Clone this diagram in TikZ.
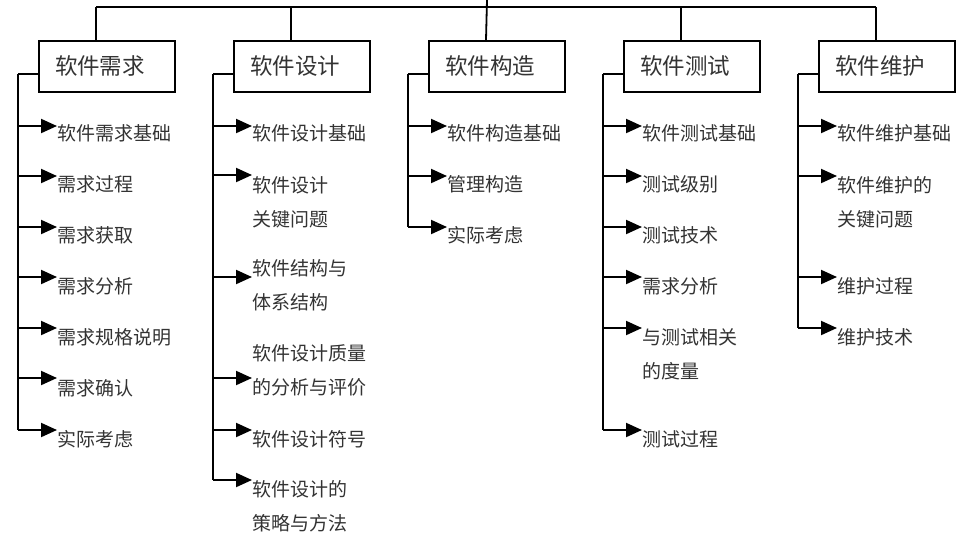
\documentclass[tikz,border=0pt]{standalone}
\usepackage{fontspec}
\newfontfamily\cjk{Noto Sans CJK SC}
\usetikzlibrary{arrows.meta}
\begin{document}
\begin{tikzpicture}[x=1pt,y=-1pt,
  topbox/.style={draw,line width=1.8pt,minimum width=136pt,minimum height=51pt,inner sep=0pt,anchor=north west},
  boxtext/.style={font=\cjk\fontsize{22.5}{22.5}\selectfont,text=black!80,inner sep=0pt},
  item/.style={anchor=west,inner sep=0pt,align=left,text=black!80,font=\cjk\fontsize{19}{34}\selectfont},
  link/.style={line width=1.8pt},
  branch/.style={line width=1.5pt},
  arr/.style={line width=2pt,-{Triangle[length=16pt,width=14pt]}}]
\useasboundingbox (0,0) rectangle (970,539);
% boxes
\foreach \n/\lx/\t in {1/38/软件需求,2/233/软件设计,3/428/软件构造,4/623/软件测试,5/818/软件维护}{
  \node[topbox] (b\n) at (\lx,40) {};
  \node[boxtext] (bt\n) at (\lx+62,66) {\t};
  \coordinate (top\n) at (\lx+58,7);
  \coordinate (tb\n) at (\lx+58,40);
  \coordinate (br\n) at (\lx-20,74);
  \coordinate (bl\n) at (\lx,74);
}
\coordinate (root) at (487,0);
\draw[link] (top1) -- (top5);
\draw[link] (root) -- (tb3);
\foreach \n in {1,2,4,5}{\draw[link] (top\n) -- (tb\n);}
\foreach \n in {1,...,5}{\draw[branch] (bl\n) -- (br\n);}
% ---------- column 1
\node[item] (t1a) at (57,133) {软件需求基础};
\node[item] (t1b) at (57,184) {需求过程};
\node[item] (t1c) at (57,235) {需求获取};
\node[item] (t1d) at (57,286) {需求分析};
\node[item] (t1e) at (57,337) {需求规格说明};
\node[item] (t1f) at (57,388) {需求确认};
\node[item] (t1g) at (57,439) {实际考虑};
\coordinate (e1) at (18,430);
\draw[branch] (br1) -- (e1);
\foreach \s/\y in {a/126,b/176,c/227,d/277,e/328,f/378,g/430}{
  \coordinate (c1\s) at (18,\y);
  \draw[arr] (c1\s) -- (c1\s -| t1\s.west);
}
% ---------- column 2
\node[item] (t2a) at (252,133) {软件设计基础};
\node[item] (t2b) at (252,202) {软件设计\\关键问题};
\node[item] (t2c) at (252,285.5) {软件结构与\\体系结构};
\node[item] (t2d) at (252,370.5) {软件设计质量\\的分析与评价};
\node[item] (t2e) at (252,439) {软件设计符号};
\node[item] (t2f) at (252,506) {软件设计的\\策略与方法};
\coordinate (e2) at (213,480);
\draw[branch] (br2) -- (e2);
\foreach \s/\y in {a/126,b/175,c/277,d/378,e/430,f/480}{
  \coordinate (c2\s) at (213,\y);
  \draw[arr] (c2\s) -- (c2\s -| t2\s.west);
}
% ---------- column 3
\node[item] (t3a) at (447,133) {软件构造基础};
\node[item] (t3b) at (447,184) {管理构造};
\node[item] (t3c) at (447,235) {实际考虑};
\coordinate (e3) at (408,227);
\draw[branch] (br3) -- (e3);
\foreach \s/\y in {a/126,b/176,c/227}{
  \coordinate (c3\s) at (408,\y);
  \draw[arr] (c3\s) -- (c3\s -| t3\s.west);
}
% ---------- column 4
\node[item] (t4a) at (642,133) {软件测试基础};
\node[item] (t4b) at (642,184) {测试级别};
\node[item] (t4c) at (642,235) {测试技术};
\node[item] (t4d) at (642,286) {需求分析};
\node[item] (t4e) at (642,354) {与测试相关\\的度量};
\node[item] (t4f) at (642,439) {测试过程};
\coordinate (e4) at (603,430);
\draw[branch] (br4) -- (e4);
\foreach \s/\y in {a/126,b/176,c/227,d/277,e/328,f/430}{
  \coordinate (c4\s) at (603,\y);
  \draw[arr] (c4\s) -- (c4\s -| t4\s.west);
}
% ---------- column 5
\node[item] (t5a) at (837,133) {软件维护基础};
\node[item] (t5b) at (837,202) {软件维护的\\关键问题};
\node[item] (t5c) at (837,286) {维护过程};
\node[item] (t5d) at (837,337) {维护技术};
\coordinate (e5) at (798,328);
\draw[branch] (br5) -- (e5);
\foreach \s/\y in {a/126,b/176,c/277,d/328}{
  \coordinate (c5\s) at (798,\y);
  \draw[arr] (c5\s) -- (c5\s -| t5\s.west);
}
\end{tikzpicture}
\end{document}
